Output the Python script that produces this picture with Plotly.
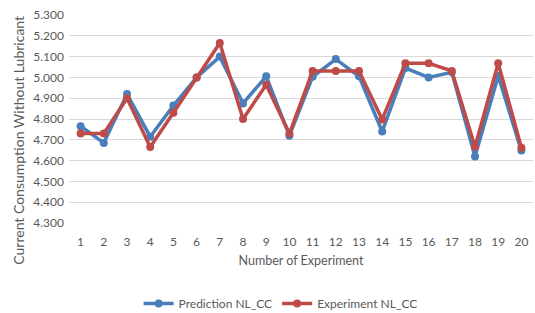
import plotly.graph_objects as go

experiments = [str(i) for i in range(1, 21)]
prediction = [4.765, 4.685, 4.920, 4.715, 4.865, 5.000, 5.100, 4.875, 5.005, 4.720,
              5.003, 5.088, 5.005, 4.740, 5.045, 5.000, 5.025, 4.620, 5.007, 4.648]
experiment = [4.730, 4.730, 4.900, 4.665, 4.830, 5.000, 5.165, 4.800, 4.965, 4.730,
              5.031, 5.031, 5.031, 4.798, 5.068, 5.068, 5.031, 4.667, 5.068, 4.662]
y_ticks = [4.3, 4.4, 4.5, 4.6, 4.7, 4.8, 4.9, 5.0, 5.1, 5.2, 5.3]

BLUE = "#4A7EBB"
RED = "#BE4B48"
GRAY = "#595959"

fig = go.Figure()
fig.add_trace(go.Scatter(x=experiments, y=prediction, mode="lines+markers",
                         name="Prediction NL_CC",
                         line=dict(color=BLUE, width=3.5),
                         marker=dict(color=BLUE, size=8)))
fig.add_trace(go.Scatter(x=experiments, y=experiment, mode="lines+markers",
                         name="Experiment NL_CC",
                         line=dict(color=RED, width=3.5),
                         marker=dict(color=RED, size=8)))

fig.add_annotation(text="Current Consumption Without Lubricant",
                   xref="paper", yref="paper", x=-0.108, y=0.40,
                   xanchor="center", yanchor="middle", textangle=-90,
                   showarrow=False, font=dict(size=14, color=GRAY))

fig.update_layout(
    width=535, height=313,
    margin=dict(l=69, r=2, t=15, b=90),
    paper_bgcolor="white", plot_bgcolor="white",
    font=dict(family="Lato, Open Sans, sans-serif", size=12, color=GRAY),
    showlegend=True,
    legend=dict(orientation="h", x=0.15, xanchor="left",
                yref="container", y=0.03, yanchor="middle",
                font=dict(size=12, color=GRAY), traceorder="normal",
                itemwidth=30, tracegroupgap=0),
    xaxis=dict(type="category", range=[-0.5, len(experiments) - 0.5],
               showgrid=False, zeroline=False, showline=False,
               ticks="", tickfont=dict(size=12, color=GRAY), ticklabelstandoff=10,
               automargin=False,
               title=dict(text="Number of Experiment", font=dict(size=12.5, color=GRAY), standoff=8)),
    yaxis=dict(range=[4.3, 5.3], tickvals=y_ticks, tickformat=".3f",
               showgrid=True, gridcolor="#D9D9D9", gridwidth=1.3, zeroline=False,
               showline=False, ticks="", ticklen=0, tickfont=dict(size=12, color=GRAY),
               ticklabelstandoff=4, automargin=False),
)

fig.write_html("out.html", config={"displayModeBar": False},
               post_script="document.body.style.margin='0';")
